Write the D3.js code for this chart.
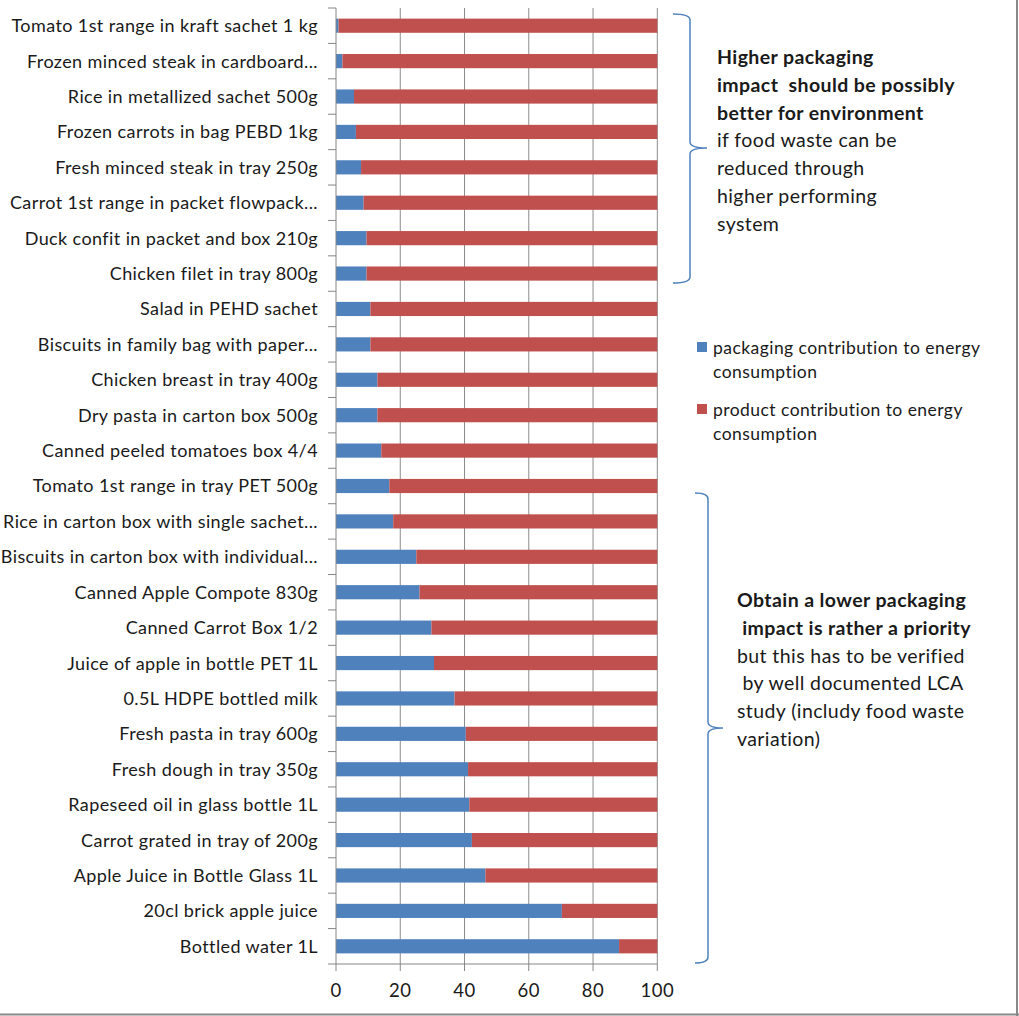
<!DOCTYPE html>
<html>
<head>
<meta charset="utf-8">
<script src="https://cdn.jsdelivr.net/npm/d3@7"></script>
<style>
  body { margin: 0; background: #fff; }
  text { font-family: Lato, "Open Sans", sans-serif; fill: #1a1a1a; }
</style>
</head>
<body>
<script>
// categories, top to bottom
var categories = [
  "Tomato 1st range in kraft sachet 1 kg",
  "Frozen minced steak in cardboard...",
  "Rice in metallized sachet 500g",
  "Frozen carrots in bag PEBD 1kg",
  "Fresh minced steak in tray 250g",
  "Carrot 1st range in packet flowpack...",
  "Duck confit in packet and box 210g",
  "Chicken filet in tray 800g",
  "Salad in PEHD sachet ",
  "Biscuits in family bag with paper...",
  "Chicken breast in tray 400g",
  "Dry pasta in carton box 500g",
  "Canned peeled tomatoes box 4/4",
  "Tomato 1st range in tray PET 500g",
  "Rice in carton box with single sachet...",
  "Biscuits in carton box with individual...",
  "Canned Apple Compote 830g",
  "Canned Carrot Box 1/2",
  "Juice of apple in bottle PET 1L",
  "0.5L HDPE bottled milk",
  "Fresh pasta in tray 600g",
  "Fresh dough in tray 350g",
  "Rapeseed oil in glass bottle 1L",
  "Carrot grated in tray of 200g",
  "Apple Juice in Bottle Glass 1L",
  "20cl brick apple juice",
  "Bottled water 1L"
];
// packaging share (%) per category
var packaging = [0.8, 2, 5.6, 6.2, 7.8, 8.6, 9.5, 9.5, 10.7, 10.7, 12.9, 12.9, 14.1,
  16.6, 17.8, 25, 26, 29.7, 30.5, 36.9, 40.4, 41.1, 41.5, 42.3, 46.5, 70.3, 88.1];
// product share (%) = remainder of each stack
var product = [99.2, 98, 94.4, 93.8, 92.2, 91.4, 90.5, 90.5, 89.3, 89.3, 87.1, 87.1, 85.9,
  83.4, 82.2, 75, 74, 70.3, 69.5, 63.1, 59.6, 58.9, 58.5, 57.7, 53.5, 29.7, 11.9];
var xTicks = [0, 20, 40, 60, 80, 100];
var seriesNames = ["packaging contribution to energy|consumption",
  "product contribution to energy|consumption"];
var colors = ["#4F81BD", "#C0504D"];

var W = 1019, H = 1016;
var svg = d3.select("body").append("svg").attr("width", W).attr("height", H);

var x = d3.scaleLinear().domain([0, 100]).range([336, 657.3]);
var y = d3.scaleBand().domain(categories).range([8, 964]).paddingInner(0.6).paddingOuter(0.3);

// gridlines
svg.append("g").selectAll("line").data(xTicks.slice(1)).enter().append("line")
  .attr("x1", function (d) { return x(d); }).attr("x2", function (d) { return x(d); })
  .attr("y1", 8).attr("y2", 964)
  .attr("stroke", "#8c8c8c").attr("stroke-width", 1);

// stacked bars
var rows = categories.map(function (c, i) { return { name: c, pk: packaging[i], pr: product[i] }; });
var bars = svg.append("g").selectAll("g").data(rows).enter().append("g");
bars.append("rect")
  .attr("x", x(0)).attr("y", function (d) { return y(d.name); })
  .attr("width", function (d) { return x(d.pk) - x(0); })
  .attr("height", y.bandwidth()).attr("fill", colors[0]);
bars.append("rect")
  .attr("x", function (d) { return x(d.pk); }).attr("y", function (d) { return y(d.name); })
  .attr("width", function (d) { return x(d.pk + d.pr) - x(d.pk); })
  .attr("height", y.bandwidth()).attr("fill", colors[1]);

// y axis
var yAxis = svg.append("g");
yAxis.append("line").attr("x1", 336).attr("x2", 336).attr("y1", 8).attr("y2", 964)
  .attr("stroke", "#868686");
var bounds = d3.range(categories.length + 1).map(function (i) { return 8 + i * (956 / categories.length); });
yAxis.selectAll("line.tk").data(bounds).enter().append("line").attr("class", "tk")
  .attr("x1", 328).attr("x2", 336)
  .attr("y1", function (d) { return d; }).attr("y2", function (d) { return d; })
  .attr("stroke", "#868686");
yAxis.selectAll("text").data(categories).enter().append("text")
  .attr("x", 318).attr("y", function (d) { return y(d) + y.bandwidth() / 2; })
  .attr("dy", "0.36em").attr("text-anchor", "end")
  .style("font-size", "18px").style("letter-spacing", "0.4px")
  .text(function (d) { return d; });

// x axis
var xAxis = svg.append("g");
xAxis.append("line").attr("x1", 336).attr("x2", 657.3).attr("y1", 964).attr("y2", 964)
  .attr("stroke", "#868686");
xAxis.selectAll("line.tk").data(xTicks).enter().append("line").attr("class", "tk")
  .attr("x1", function (d) { return x(d); }).attr("x2", function (d) { return x(d); })
  .attr("y1", 964).attr("y2", 971).attr("stroke", "#868686");
xAxis.selectAll("text").data(xTicks).enter().append("text")
  .attr("x", function (d) { return x(d); }).attr("y", 997)
  .attr("text-anchor", "middle").style("font-size", "18.5px").style("letter-spacing", "0.5px")
  .text(function (d) { return d; });

// legend
var leg = svg.append("g").selectAll("g").data(seriesNames).enter().append("g")
  .attr("transform", function (d, i) { return "translate(697," + (347 + i * 62) + ")"; });
leg.append("rect").attr("x", 0).attr("y", -5).attr("width", 10).attr("height", 10)
  .attr("fill", function (d, i) { return colors[i]; });
leg.append("text").attr("x", 16).attr("y", 7)
  .style("font-size", "17.5px").style("letter-spacing", "0.45px")
  .selectAll("tspan").data(function (d) { return d.split("|"); }).enter().append("tspan")
  .attr("x", 16).attr("dy", function (d, i) { return i ? 24 : 0; })
  .text(function (d) { return d; });

// braces
function brace(xEnd, xMid, xTip, y0, y1, yTip) {
  var r = 6;
  return "M" + xEnd + "," + y0 +
    " Q" + xMid + "," + y0 + " " + xMid + "," + (y0 + r) +
    " L" + xMid + "," + (yTip - r) +
    " Q" + xMid + "," + yTip + " " + xTip + "," + yTip +
    " Q" + xMid + "," + yTip + " " + xMid + "," + (yTip + r) +
    " L" + xMid + "," + (y1 - r) +
    " Q" + xMid + "," + y1 + " " + xEnd + "," + y1;
}
svg.append("path").attr("d", brace(673, 690, 707, 14, 283, 148))
  .attr("fill", "none").attr("stroke", "#4F81BD").attr("stroke-width", 1.5);
svg.append("path").attr("d", brace(695, 708, 723, 493, 963, 728))
  .attr("fill", "none").attr("stroke", "#4F81BD").attr("stroke-width", 1.5);

// annotations
var note1 = [["Higher packaging", 1], ["impact  should be possibly", 1], ["better for environment", 1],
  ["if food waste can be", 0], ["reduced through", 0], ["higher performing", 0], ["system", 0]];
var note2 = [["Obtain a lower packaging", 1], [" impact is rather a priority", 1],
  ["but this has to be verified", 0], [" by well documented LCA", 0],
  ["study (includy food waste", 0], ["variation)", 0]];
function note(lines, x0, y0) {
  svg.append("text").attr("x", x0).attr("y", y0)
    .style("font-size", "19.5px").style("letter-spacing", "0.4px")
    .attr("xml:space", "preserve").style("white-space", "pre")
    .selectAll("tspan").data(lines).enter().append("tspan")
    .attr("x", x0).attr("dy", function (d, i) { return i ? 27.8 : 0; })
    .style("font-weight", function (d) { return d[1] ? "bold" : "normal"; })
    .text(function (d) { return d[0]; });
}
note(note1, 717, 64);
note(note2, 737, 607);

// frame edges
svg.append("line").attr("x1", 0).attr("x2", W).attr("y1", 1014.5).attr("y2", 1014.5)
  .attr("stroke", "#888").attr("stroke-width", 2);
svg.append("line").attr("x1", 1017).attr("x2", 1017).attr("y1", 0).attr("y2", H)
  .attr("stroke", "#888").attr("stroke-width", 2);
</script>
</body>
</html>
